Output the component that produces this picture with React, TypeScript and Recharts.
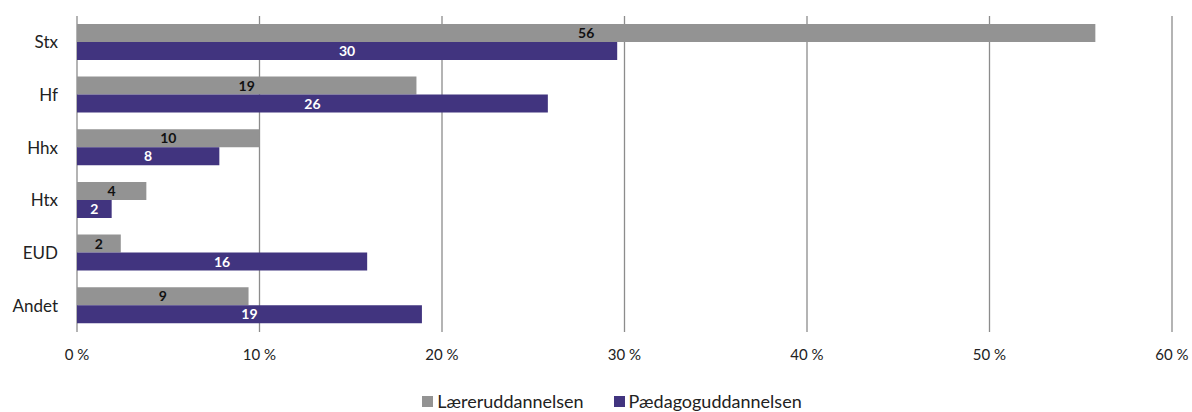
import { BarChart, Bar, XAxis, YAxis, CartesianGrid, Legend, LabelList } from "recharts";

const categories = ["Stx", "Hf", "Hhx", "Htx", "EUD", "Andet"];
const laerer = [55.8, 18.6, 10.0, 3.8, 2.4, 9.4];
const paedagog = [29.6, 25.8, 7.8, 1.9, 15.9, 18.9];
const xTicks = [0, 10, 20, 30, 40, 50, 60];

const GREY = "#939393";
const PURPLE = "#41347f";
const FONT = "Lato, 'Noto Sans', sans-serif";

const data = categories.map((name, i) => ({
  name,
  laerer: laerer[i],
  paedagog: paedagog[i],
}));

function LegendContent({ payload }: any) {
  return (
    <div style={{ display: "flex", justifyContent: "center", gap: 30, fontFamily: FONT, fontSize: 18, lineHeight: "22px", color: "#222", paddingLeft: 52 }}>
      {(payload || []).map((p: any) => (
        <div key={p.value} style={{ display: "flex", alignItems: "center", gap: 4 }}>
          <span style={{ width: 11, height: 11, background: p.color, display: "inline-block" }} />
          <span>{p.value}</span>
        </div>
      ))}
    </div>
  );
}

export default function App() {
  return (
    <div style={{ position: "absolute", left: 0, top: 0, background: "#fff" }}>
      <BarChart
        width={1192}
        height={412}
        data={data}
        layout="vertical"
        margin={{ top: 16, right: 20, bottom: 0, left: 0 }}
        barCategoryGap="15%"
        barGap={0}
      >
        <CartesianGrid horizontal={false} stroke="#8c8c8c" strokeWidth={1.3} />
        <XAxis
          type="number"
          domain={[0, 60]}
          ticks={xTicks}
          tickFormatter={(v) => `${v} %`}
          axisLine={false}
          tickLine={false}
          tickMargin={11}
          height={58}
          tick={{ fill: "#222", fontSize: 15, fontFamily: FONT }}
        />
        <YAxis
          type="category"
          dataKey="name"
          width={77}
          axisLine={false}
          tickLine={false}
          tickMargin={13}
          tick={{ fill: "#222", fontSize: 17, fontFamily: FONT }}
        />
        <Legend verticalAlign="bottom" content={<LegendContent />} />
        <Bar dataKey="laerer" name="Læreruddannelsen" fill={GREY} isAnimationActive={false}>
          <LabelList
            dataKey="laerer"
            position="center"
            formatter={(v: any) => Math.round(Number(v))}
            style={{ fill: "#111", fontSize: 14, fontWeight: 700, fontFamily: FONT }}
          />
        </Bar>
        <Bar dataKey="paedagog" name="Pædagoguddannelsen" fill={PURPLE} isAnimationActive={false}>
          <LabelList
            dataKey="paedagog"
            position="center"
            formatter={(v: any) => Math.round(Number(v))}
            style={{ fill: "#fff", fontSize: 14, fontWeight: 700, fontFamily: FONT }}
          />
        </Bar>
      </BarChart>
    </div>
  );
}
